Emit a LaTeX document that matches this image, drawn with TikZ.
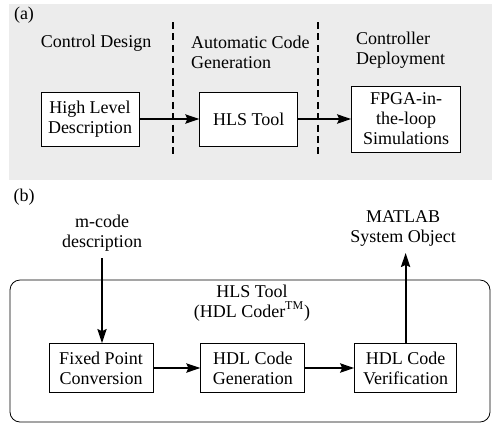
\documentclass[tikz,border=0pt]{standalone}
\usepackage{fontspec}
\setmainfont{Liberation Serif}
\usetikzlibrary{positioning,arrows.meta}

\begin{document}
\begin{tikzpicture}[x=0.5pt, y=-0.5pt, font=\fontsize{9}{10}\selectfont,
        block/.style={draw, rectangle, align=center, inner sep=2pt, fill=white},
        flow/.style={-{Stealth[length=7pt, width=4.6pt, inset=1pt]}, line width=1pt},
        sep/.style={dash pattern=on 3.5pt off 2.2pt, line width=0.9pt}]
        \useasboundingbox (0,0) rectangle (492,424);
        \fill[gray!15] (9,4) rectangle (492,180);

        % (a)
        \node (lbla) at (24,15) {(a)};
        \node (ctrl) at (96,43) {Control Design};
        \node[anchor=west, align=left] (acg) at (184,52) {Automatic Code\\Generation};
        \node[anchor=west, align=left] (dep) at (349,50) {Controller\\Deployment};

        \node[block, minimum width=49pt, minimum height=27pt] (hld) at (90,119) {High Level\\Description};
        \node[block, minimum width=49pt, minimum height=27pt, right=30pt of hld] (hls) {HLS Tool};
        \node[block, minimum width=54.5pt, minimum height=33pt, right=26.5pt of hls] (fil) {FPGA-in-\\the-loop\\Simulations};

        \draw[sep] (173,22) -- (173,157);
        \draw[sep] (318,22) -- (318,157);

        \draw[flow] (hld) -- (hls);
        \draw[flow] (hls) -- (fil);

        % (b)
        \node (lblb) at (24,197) {(b)};
        \draw[rounded corners=5pt] (10,280) rectangle (490,422);
        \node[align=center] (tool) at (252,303) {HLS Tool\\(HDL Coder\textsuperscript{TM})};

        \node[block, minimum width=52pt, minimum height=24.5pt] (fpc) at (101,368) {Fixed Point\\Conversion};
        \node[block, minimum width=52pt, minimum height=24.5pt, right=23.5pt of fpc] (gen) {HDL Code\\Generation};
        \node[block, minimum width=51pt, minimum height=24.5pt, right=24.5pt of gen] (ver) {HDL Code\\Verification};

        \node[align=center] (mcode) at (102,233) {m-code\\description};
        \node[align=center] (mso) at (403,228) {MATLAB\\System Object};

        \draw[flow] (mcode) -- (mcode |- fpc.north);
        \draw[flow] (fpc) -- (gen);
        \draw[flow] (gen) -- (ver);
        \draw[flow] (ver.north) -- (ver.north |- mso.south);
    \end{tikzpicture}
\end{document}
